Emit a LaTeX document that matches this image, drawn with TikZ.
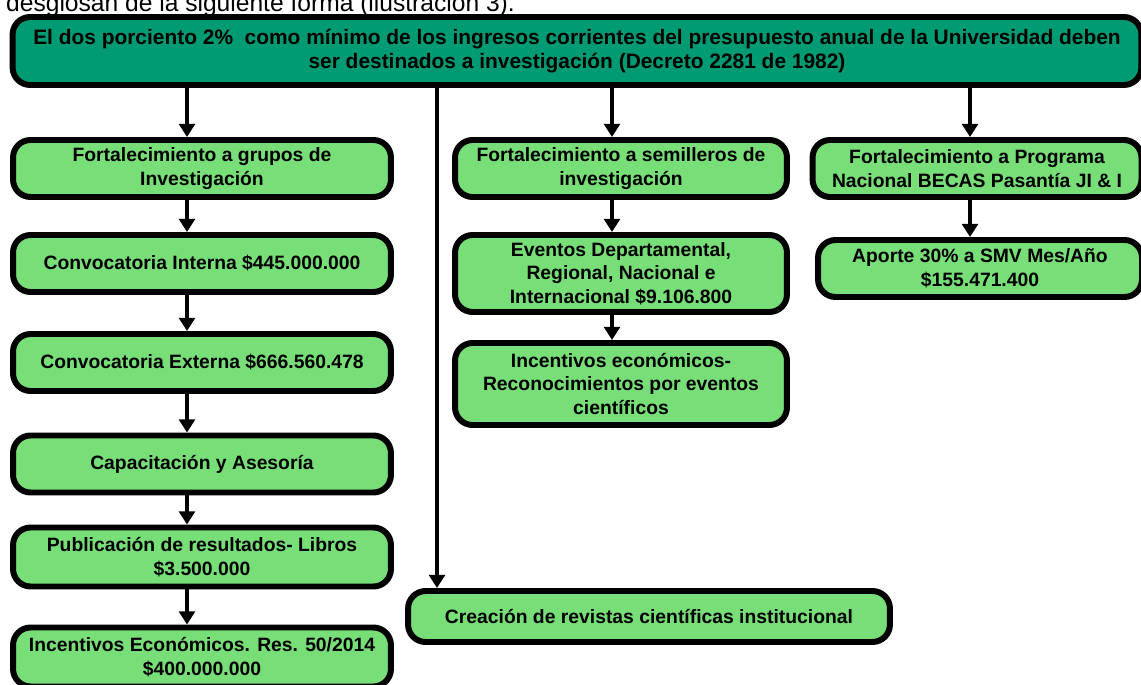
\documentclass[tikz,border=0pt]{standalone}
\usepackage{fontspec}
\setmainfont{Liberation Sans}
\usetikzlibrary{arrows.meta}
\definecolor{darkgreen}{RGB}{0,155,115}
\definecolor{lightgreen}{RGB}{120,222,120}

\begin{document}
\begin{tikzpicture}[x=0.02cm, y=-0.02cm,
    box/.style={draw=black, line width=3.4pt, rounded corners=10pt, fill=lightgreen,
      align=center, inner sep=2pt, font=\bfseries\fontsize{11}{13.5}\selectfont},
    arr/.style={-{Triangle[width=9pt,length=7.5pt]}, line width=2.3pt}]
    \useasboundingbox (0,0) rectangle (1141,685);
    \clip (0,0) rectangle (1141,685);

    % Nodes
    \node[anchor=base west, font=\fontsize{14}{16}\selectfont] (intro) at (0,12)
      {desglosan de la siguiente forma (ilustración 3).};
    \node[box, fill=darkgreen, minimum width=22.58cm, minimum height=1.36cm,
      font=\bfseries\fontsize{11.9}{13.2}\selectfont] (top) at (577,51)
      {El dos porciento 2\%\ \ como mínimo de los ingresos corrientes del presupuesto anual de la Universidad deben\\
       ser destinados a investigación (Decreto 2281 de 1982)};

    \node[box, minimum width=7.56cm, minimum height=1.14cm] (grupos) at (202,168.5)
      {Fortalecimiento a grupos de\\ Investigación};
    \node[box, minimum width=7.56cm, minimum height=1.14cm] (interna) at (202,263.5)
      {Convocatoria Interna \$445.000.000};
    \node[box, minimum width=7.56cm, minimum height=1.14cm] (externa) at (202,362.5)
      {Convocatoria Externa \$666.560.478};
    \node[box, minimum width=7.56cm, minimum height=1.14cm] (capac) at (202,464)
      {Capacitación y Asesoría};
    \node[box, minimum width=7.56cm, minimum height=1.18cm] (libros) at (202,557)
      {Publicación de resultados- Libros\\ \$3.500.000};
    \node[box, minimum width=7.56cm, minimum height=1.18cm] (incent) at (202,657)
      {Incentivos Económicos. Res. 50/2014\\ \$400.000.000};

    \node[box, minimum width=6.64cm, minimum height=1.14cm] (semill) at (621,168.5)
      {Fortalecimiento a semilleros de\\ investigación};
    \node[box, minimum width=6.64cm, minimum height=1.54cm] (eventos) at (621,273.5)
      {Eventos Departamental,\\ Regional, Nacional e\\ Internacional \$9.106.800};
    \node[box, minimum width=6.64cm, minimum height=1.64cm] (recon) at (621,384)
      {Incentivos económicos-\\ Reconocimientos por eventos\\ científicos};

    \node[box, minimum width=6.58cm, minimum height=1.14cm] (becas) at (977,168.5)
      {Fortalecimiento a Programa\\ Nacional BECAS Pasantía JI \& I};
    \node[box, minimum width=6.48cm, minimum height=1.14cm] (aporte) at (980,268.5)
      {Aporte 30\% a SMV Mes/Año\\ \$155.471.400};

    \node[box, minimum width=9.64cm, minimum height=1.02cm] (revistas) at (649,616.5)
      {Creación de revistas científicas institucional};

    \coordinate (cl) at (187,0);
    \coordinate (cm) at (612,0);
    \coordinate (cr) at (970,0);
    \coordinate (cc) at (437,0);

    % Arrows
    \draw[arr] (top.south -| cl) -- (grupos.north -| cl);
    \foreach \a/\b in {grupos/interna, interna/externa, externa/capac, capac/libros, libros/incent}
      \draw[arr] (\a.south -| cl) -- (\b.north -| cl);
    \draw[arr] (top.south -| cm) -- (semill.north -| cm);
    \draw[arr] (semill.south -| cm) -- (eventos.north -| cm);
    \draw[arr] (eventos.south -| cm) -- (recon.north -| cm);
    \draw[arr] (top.south -| cr) -- (becas.north -| cr);
    \draw[arr] (becas.south -| cr) -- (aporte.north -| cr);
    \draw[arr] (top.south -| cc) -- (revistas.north -| cc);
\end{tikzpicture}
\end{document}
